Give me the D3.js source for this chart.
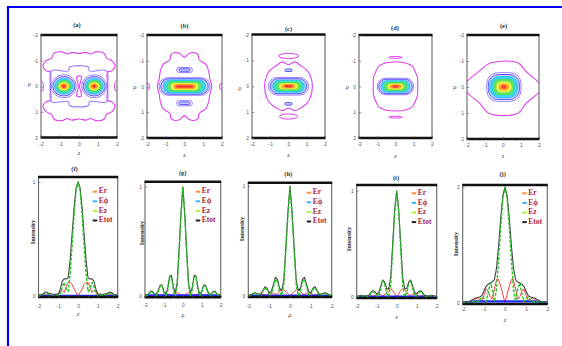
<!DOCTYPE html>
<html><head><meta charset="utf-8">
<script src="https://cdn.jsdelivr.net/npm/d3@7"></script>
<style>body{margin:0;background:#fff}svg{display:block}</style>
</head><body>
<script>
// ================= DATA =================
const axisTicks = [-2,-1,0,1,2];
const tickLabels = ["-2","-1","0","1","2"];
const minorTicks = [-1.5,-0.5,0.5,1.5];
const intensityTicks = [0,1];
const intensityLabels = ["0","1"];
const contourPanelLabels = ["(a)","(b)","(c)","(d)","(e)"];
const profilePanelLabels = ["(f)","(g)","(h)","(i)","(j)"];
const profileAxisNames = ["z","ρ","ρ","z","z"];
const seriesNames = ["Er","Eϕ","Ez","Etot"];

// sample positions of the intensity profiles
const zGrid = [-2,-1.9,-1.8,-1.7,-1.6,-1.5,-1.4,-1.3,-1.2,-1.1,-1,-0.9,-0.8,-0.7,-0.6,-0.5,-0.4,-0.3,-0.2,-0.1,0,0.1,0.2,0.3,0.4,0.5,0.6,0.7,0.8,0.9,1,1.1,1.2,1.3,1.4,1.5,1.6,1.7,1.8,1.9,2];

// (f)
const erF   = [0.004,0.004,0.005,0.01,0.01,0.008,0.008,0.008,0.008,0.01,0.015,0.04,0.05,0.03,0.08,0.12,0.12,0.1,0.06,0.03,0,0.03,0.06,0.1,0.12,0.12,0.08,0.03,0.05,0.04,0.015,0.01,0.008,0.008,0.008,0.008,0.01,0.01,0.005,0.004,0.004];
const ephiF = [0.004,0.004,0.004,0.004,0.004,0.004,0.004,0.004,0.004,0.004,0.004,0.004,0.004,0.004,0.004,0.004,0.004,0.004,0.004,0.004,0.004,0.004,0.004,0.004,0.004,0.004,0.004,0.004,0.004,0.004,0.004,0.004,0.004,0.004,0.004,0.004,0.004,0.004,0.004,0.004,0.004];
const ezF   = [0.005,0.005,0.01,0.02,0.025,0.015,0.01,0.005,0.005,0.005,0.005,0.02,0.08,0.12,0.06,0.04,0.2,0.45,0.72,0.93,1.0,0.93,0.72,0.45,0.2,0.04,0.06,0.12,0.08,0.02,0.005,0.005,0.005,0.005,0.01,0.015,0.025,0.02,0.01,0.005,0.005];
const etotF = [0.01,0.01,0.015,0.03,0.035,0.025,0.02,0.015,0.015,0.015,0.02,0.06,0.13,0.15,0.15,0.16,0.32,0.55,0.78,0.95,1.0,0.95,0.78,0.55,0.32,0.16,0.15,0.15,0.13,0.06,0.02,0.015,0.015,0.015,0.02,0.025,0.035,0.03,0.015,0.01,0.01];
// (g)
const erG   = [0.004,0.005,0.006,0.005,0.005,0.008,0.012,0.012,0.008,0.008,0.015,0.02,0.02,0.01,0.01,0.02,0.03,0.03,0.02,0.01,0,0.01,0.02,0.03,0.03,0.02,0.01,0.01,0.02,0.02,0.015,0.008,0.008,0.012,0.012,0.008,0.005,0.005,0.006,0.005,0.004];
const ephiG = [0.008,0.008,0.008,0.008,0.008,0.008,0.008,0.008,0.008,0.008,0.008,0.008,0.008,0.008,0.008,0.008,0.008,0.008,0.008,0.008,0.008,0.008,0.008,0.008,0.008,0.008,0.008,0.008,0.008,0.008,0.008,0.008,0.008,0.008,0.008,0.008,0.008,0.008,0.008,0.008,0.008];
const ezG   = [0.005,0.005,0.015,0.04,0.035,0.015,0.005,0.04,0.09,0.09,0.03,0.005,0.05,0.17,0.18,0.06,0.005,0.1,0.4,0.74,0.99,0.74,0.4,0.1,0.005,0.06,0.18,0.17,0.05,0.005,0.03,0.09,0.09,0.04,0.005,0.015,0.035,0.04,0.015,0.005,0.005];
const etotG = [0.01,0.01,0.02,0.045,0.04,0.02,0.015,0.05,0.1,0.1,0.04,0.02,0.07,0.18,0.19,0.08,0.03,0.12,0.42,0.75,1.0,0.75,0.42,0.12,0.03,0.08,0.19,0.18,0.07,0.02,0.04,0.1,0.1,0.05,0.015,0.02,0.04,0.045,0.02,0.01,0.01];
// (h)
const erH   = [0.004,0.005,0.006,0.005,0.005,0.01,0.015,0.015,0.01,0.01,0.02,0.03,0.025,0.015,0.02,0.04,0.06,0.055,0.04,0.02,0,0.02,0.04,0.055,0.06,0.04,0.02,0.015,0.025,0.03,0.02,0.01,0.01,0.015,0.015,0.01,0.005,0.005,0.006,0.005,0.004];
const ephiH = [0.007,0.007,0.007,0.007,0.007,0.007,0.007,0.007,0.007,0.007,0.007,0.007,0.007,0.007,0.007,0.007,0.007,0.007,0.007,0.007,0.007,0.007,0.007,0.007,0.007,0.007,0.007,0.007,0.007,0.007,0.007,0.007,0.007,0.007,0.007,0.007,0.007,0.007,0.007,0.007,0.007];
const ezH   = [0.004,0.004,0.015,0.025,0.02,0.008,0.008,0.04,0.075,0.06,0.01,0.01,0.08,0.15,0.13,0.04,0.005,0.1,0.41,0.74,0.99,0.74,0.41,0.1,0.005,0.04,0.13,0.15,0.08,0.01,0.01,0.06,0.075,0.04,0.008,0.008,0.02,0.025,0.015,0.004,0.004];
const etotH = [0.008,0.008,0.02,0.03,0.025,0.015,0.02,0.05,0.085,0.07,0.03,0.04,0.1,0.17,0.15,0.07,0.05,0.14,0.44,0.76,1.0,0.76,0.44,0.14,0.05,0.07,0.15,0.17,0.1,0.04,0.03,0.07,0.085,0.05,0.02,0.015,0.025,0.03,0.02,0.008,0.008];
// (i)
const erI   = [0.003,0.004,0.004,0.004,0.004,0.006,0.01,0.01,0.008,0.01,0.02,0.03,0.025,0.012,0.02,0.045,0.075,0.08,0.06,0.03,0,0.03,0.06,0.08,0.075,0.045,0.02,0.012,0.025,0.03,0.02,0.01,0.008,0.01,0.01,0.006,0.004,0.004,0.004,0.004,0.003];
const ephiI = [0.006,0.006,0.006,0.006,0.006,0.006,0.006,0.006,0.006,0.006,0.006,0.006,0.006,0.006,0.006,0.006,0.006,0.006,0.006,0.006,0.006,0.006,0.006,0.006,0.006,0.006,0.006,0.006,0.006,0.006,0.006,0.006,0.006,0.006,0.006,0.006,0.006,0.006,0.006,0.006,0.006];
const ezI   = [0.003,0.004,0.01,0.01,0.006,0.004,0.005,0.03,0.05,0.04,0.01,0.01,0.08,0.15,0.12,0.04,0.005,0.11,0.46,0.8,0.99,0.8,0.46,0.11,0.005,0.04,0.12,0.15,0.08,0.01,0.01,0.04,0.05,0.03,0.005,0.004,0.006,0.01,0.01,0.004,0.003];
const etotI = [0.005,0.008,0.015,0.015,0.01,0.01,0.015,0.04,0.06,0.05,0.03,0.04,0.1,0.16,0.14,0.08,0.08,0.18,0.5,0.82,1.0,0.82,0.5,0.18,0.08,0.08,0.14,0.16,0.1,0.04,0.03,0.05,0.06,0.04,0.015,0.01,0.01,0.015,0.015,0.008,0.005];
// (j)
const erJ   = [0.003,0.003,0.004,0.005,0.01,0.015,0.03,0.04,0.03,0.02,0.06,0.12,0.1,0.05,0.03,0.12,0.2,0.2,0.14,0.07,0,0.07,0.14,0.2,0.2,0.12,0.03,0.05,0.1,0.12,0.06,0.02,0.03,0.04,0.03,0.015,0.01,0.005,0.004,0.003,0.003];
const ephiJ = [0.003,0.003,0.004,0.006,0.008,0.01,0.012,0.012,0.012,0.012,0.012,0.012,0.012,0.012,0.012,0.012,0.012,0.012,0.012,0.012,0.012,0.012,0.012,0.012,0.012,0.012,0.012,0.012,0.012,0.012,0.012,0.012,0.012,0.012,0.012,0.01,0.008,0.006,0.004,0.003,0.003];
const ezJ   = [0.003,0.003,0.003,0.003,0.005,0.01,0.01,0.005,0.02,0.05,0.04,0.01,0.08,0.17,0.12,0.01,0.12,0.38,0.66,0.9,1.0,0.9,0.66,0.38,0.12,0.01,0.12,0.17,0.08,0.01,0.04,0.05,0.02,0.005,0.01,0.01,0.005,0.003,0.003,0.003,0.003];
const etotJ = [0.005,0.005,0.008,0.01,0.02,0.03,0.04,0.045,0.05,0.06,0.1,0.14,0.16,0.17,0.18,0.2,0.3,0.5,0.74,0.93,1.0,0.93,0.74,0.5,0.3,0.2,0.18,0.17,0.16,0.14,0.1,0.06,0.05,0.045,0.04,0.03,0.02,0.01,0.008,0.005,0.005];

// contour levels: 0 outermost ... 7 peak
// contour rings per panel: [level, centre z, centre rho, half width (z), half height (rho)]
const ringsA = [[0,-1.97,0,0.1,0.2],[0,1.97,0,0.1,0.2],
  [1,-0.8,0,0.66,0.45],[2,-0.8,0,0.58,0.38],[3,-0.8,0,0.47,0.3],[4,-0.8,0,0.36,0.22],[5,-0.8,0,0.26,0.15],[6,-0.8,0,0.17,0.09],[7,-0.8,0,0.08,0.045],
  [1,0.8,0,0.66,0.45],[2,0.8,0,0.58,0.38],[3,0.8,0,0.47,0.3],[4,0.8,0,0.36,0.22],[5,0.8,0,0.26,0.15],[6,0.8,0,0.17,0.09],[7,0.8,0,0.08,0.045]];
const ringsB = [[0,-1.97,0,0.1,0.13],[0,1.97,0,0.1,0.13],
  [1,0,-0.64,0.42,0.1],[2,0,-0.64,0.3,0.05],[1,0,0.65,0.42,0.1],[2,0,0.65,0.3,0.05],
  [1,0,0,1.36,0.34],[2,0,0,1.27,0.3],[3,0,0,1.12,0.25],[4,0,0,0.92,0.18],[5,0,0,0.72,0.12],[6,0,0,0.56,0.07],[7,0,0,0.45,0.025]];
const ringsC = [[0,0,-1.17,0.55,0.1],[0,0,1.17,0.5,0.1],
  [2,0,-0.62,0.2,0.05],[2,0,0.68,0.2,0.05],
  [1,0,0,1.1,0.34],[2,0,0,1.0,0.29],[3,0,0,0.86,0.23],[4,0,0,0.68,0.16],[5,0,0,0.5,0.1],[6,0,0,0.34,0.06],[7,0,0,0.2,0.03]];
const ringsD = [[0,0,-1.13,0.37,0.035],[0,0,1.19,0.37,0.035],
  [1,0,0,1.0,0.32],[2,0,0,0.92,0.28],[3,0,0,0.78,0.22],[4,0,0,0.6,0.16],[5,0,0,0.42,0.1],[6,0,0,0.28,0.06],[7,0,0,0.15,0.03]];
const ringsE = [[1,0.05,0,0.95,0.55],[2,0.05,0,0.86,0.48],[3,0.05,0,0.74,0.4],[4,0.05,0,0.56,0.29],[5,0.05,0,0.4,0.19],[6,0.05,0,0.25,0.11],[7,0.05,0,0.12,0.05]];

// free-form contour lines per panel: level and [z, rho] vertices
const outlinesA = [
 {lv:0, pts:[[-1.3,-1.3],[-0.9,-1.34],[-0.6,-1.26],[-0.4,-1.32],[0,-1.28],[0.4,-1.32],[0.6,-1.26],[0.9,-1.34],[1.3,-1.3],[1.45,-1.1],[1.75,-0.98],[1.9,-0.78],[1.72,-0.6],[1.5,-0.55],[1.52,0],[1.5,0.55],[1.72,0.6],[1.9,0.78],[1.75,0.98],[1.45,1.1],[1.3,1.3],[0.9,1.34],[0.6,1.26],[0.4,1.32],[0,1.28],[-0.4,1.32],[-0.6,1.26],[-0.9,1.34],[-1.3,1.3],[-1.45,1.1],[-1.75,0.98],[-1.9,0.78],[-1.72,0.6],[-1.5,0.55],[-1.52,0],[-1.5,-0.55],[-1.72,-0.6],[-1.9,-0.78],[-1.75,-0.98],[-1.45,-1.1]]},
 {lv:1, pts:[[-1.45,-0.6],[-0.55,-0.6],[-0.5,-0.75],[0.5,-0.75],[0.55,-0.6],[1.45,-0.6],[1.5,0],[1.45,0.6],[0.55,0.6],[0.5,0.75],[-0.5,0.75],[-0.55,0.6],[-1.45,0.6],[-1.5,0]]},
 {lv:0, pts:[[-0.12,-0.38],[0.12,-0.38],[0.03,0],[0.12,0.38],[-0.12,0.38],[-0.03,0]]}
];
const outlinesB = [
 {lv:0, pts:[[-0.5,-1.32],[-0.25,-1.28],[0,-1.13],[0.25,-1.28],[0.52,-1.32],[0.72,-1.24],[0.78,-1.05],[1.15,-0.85],[1.3,-0.55],[1.35,-0.3],[1.45,0],[1.35,0.3],[1.3,0.55],[1.15,0.85],[0.78,1.05],[0.72,1.24],[0.52,1.32],[0.25,1.28],[0,1.13],[-0.25,1.28],[-0.5,1.32],[-0.72,1.24],[-0.78,1.05],[-1.15,0.85],[-1.3,0.55],[-1.35,0.3],[-1.45,0],[-1.35,-0.3],[-1.3,-0.55],[-1.15,-0.85],[-0.78,-1.05],[-0.72,-1.24]]}
];
const outlinesC = [
 {lv:0, pts:[[-0.64,-0.81],[-0.36,-0.94],[0,-0.84],[0.36,-0.94],[0.64,-0.81],[1.0,-0.62],[1.18,-0.43],[1.31,0],[1.18,0.47],[1.0,0.66],[0.64,0.85],[0.36,0.94],[0,0.85],[-0.36,0.94],[-0.64,0.85],[-1.0,0.66],[-1.18,0.47],[-1.31,0],[-1.18,-0.43],[-1.0,-0.62]]}
];
const outlinesD = [
 {lv:0, pts:[[-0.9,-0.8],[-0.5,-0.92],[0,-0.95],[0.5,-0.92],[0.9,-0.8],[1.05,-0.62],[1.2,-0.35],[1.22,0],[1.2,0.35],[1.05,0.62],[0.9,0.8],[0.5,0.92],[0,0.95],[-0.5,0.92],[-0.9,0.8],[-1.05,0.62],[-1.2,0.35],[-1.22,0],[-1.2,-0.35],[-1.05,-0.62]]}
];
const outlinesE = [
 {lv:0, pts:[[-2.05,-0.15],[-1.3,-0.62],[-0.7,-0.92],[0.8,-0.94],[1.3,-0.58],[2.05,-0.1],[2.05,0.15],[1.3,0.62],[0.8,1.02],[-0.75,1.02],[-1.3,0.62],[-2.05,0.15]]}
];

// ================= STYLE / LAYOUT =================
const levelStroke = ["#e040ee","#9878ff","#5a5cff","#22c8f0","#4ee04e","#e6ee3a","#ff9a2a","#ff2e2e"];
const levelFill   = [null,null,"#c4c8ff","#3cd4f0","#66e466","#eef048","#ffa436","#ff3a3a"];
const seriesColor = ["#ff3b3b","#2626ff","#22c422","#444"];
const legendColor = ["#ff8c3c","#3cb4ff","#b4ee3c","#222"];

const W = 562, H = 346;
const svg = d3.select("body").append("svg").attr("width", W).attr("height", H)
  .attr("font-family", "'Liberation Serif', serif");
const defs = svg.append("defs");
defs.append("filter").attr("id","soft").attr("x","-5%").attr("y","-5%").attr("width","110%").attr("height","110%")
  .append("feGaussianBlur").attr("stdDeviation",0.3);

// blue frame
svg.append("line").attr("x1",7).attr("x2",W).attr("y1",7).attr("y2",7).attr("stroke","#0000ff").attr("stroke-width",2.2);
svg.append("line").attr("x1",8).attr("x2",8).attr("y1",6).attr("y2",H).attr("stroke","#0000ff").attr("stroke-width",2.2);

const topPanels = [
 {x0:41, x1:117, y0:35, y1:137.5, tx:77, ty:26, xlY:153.5, ylX:29.5, ylY:85, rings:ringsA, outlines:outlinesA, shape:"ellipse"},
 {x0:147,x1:222, y0:35, y1:138, tx:184.5, ty:26.5, xlY:156, ylX:135, ylY:88, rings:ringsB, outlines:outlinesB, shape:"stadium"},
 {x0:252,x1:325, y0:34.5, y1:138, tx:288.5, ty:29.5, xlY:156, ylX:240, ylY:89, rings:ringsC, outlines:outlinesC, shape:"stadium"},
 {x0:359,x1:432, y0:35, y1:138, tx:395, ty:29, xlY:156.5, ylX:347.5, ylY:88, rings:ringsD, outlines:outlinesD, shape:"stadium"},
 {x0:467,x1:539, y0:35, y1:139, tx:503.5, ty:26.5, xlY:156.5, ylX:455, ylY:88, rings:ringsE, outlines:outlinesE, shape:"rounded"}
];

function frame(g, x0, x1, y0, y1){
  g.append("line").attr("x1",x0).attr("x2",x0).attr("y1",y0).attr("y2",y1).attr("stroke","#666").attr("stroke-width",1.1);
  g.append("line").attr("x1",x1).attr("x2",x1).attr("y1",y0).attr("y2",y1).attr("stroke","#666").attr("stroke-width",1.1);
  g.append("line").attr("x1",x0-0.5).attr("x2",x1+0.5).attr("y1",y0).attr("y2",y0).attr("stroke","#111").attr("stroke-width",2.4);
  g.append("line").attr("x1",x0-0.5).attr("x2",x1+0.5).attr("y1",y1).attr("y2",y1).attr("stroke","#111").attr("stroke-width",2.4);
}
function styleAxis(sel){
  sel.select(".domain").remove();
  sel.selectAll(".tick line").attr("stroke","#555").attr("stroke-width",0.6);
  sel.selectAll(".tick text").attr("fill","#555").attr("font-size",5).attr("font-family","'Liberation Sans', sans-serif");
}

topPanels.forEach((p, i) => {
  const g = svg.append("g");
  const x = d3.scaleLinear().domain([-2,2]).range([p.x0,p.x1]);
  const y = d3.scaleLinear().domain([-2,2]).range([p.y0,p.y1]);
  const cid = "clipT"+i;
  defs.append("clipPath").attr("id",cid).append("rect")
    .attr("x",p.x0).attr("y",p.y0).attr("width",p.x1-p.x0).attr("height",p.y1-p.y0);
  const plot = g.append("g").attr("clip-path",`url(#${cid})`).append("g").attr("filter","url(#soft)");
  const line = d3.line().x(d=>x(d[0])).y(d=>y(d[1])).curve(d3.curveCatmullRomClosed.alpha(0.5));
  p.outlines.forEach(o => {
    plot.append("path").attr("d", line(o.pts)).attr("fill","none")
      .attr("stroke", levelStroke[o.lv]).attr("stroke-width",1.1);
  });
  p.rings.forEach(r => {
    const [lv, cz, cr, hw, hh] = r;
    const px0 = x(cz-hw), px1 = x(cz+hw), py0 = y(cr-hh), py1 = y(cr+hh);
    const w = px1-px0, h = py1-py0;
    let rx, ry;
    if (p.shape === "ellipse" || lv === 0) { rx = w/2; ry = h/2; }
    else if (p.shape === "stadium") { rx = Math.min(h/2, w/2); ry = h/2; }
    else { rx = w*0.32; ry = h*0.38; }
    plot.append("rect").attr("x",px0).attr("y",py0).attr("width",w).attr("height",h)
      .attr("rx",rx).attr("ry",ry)
      .attr("fill", levelFill[lv] || "none")
      .attr("stroke", levelStroke[lv]).attr("stroke-width", lv===7 ? 0.8 : 1);
  });
  frame(g, p.x0, p.x1, p.y0, p.y1);
  const ax = g.append("g").attr("transform",`translate(0,${p.y1})`)
    .call(d3.axisBottom(x).tickValues(axisTicks).tickFormat((d,k)=>tickLabels[k]).tickSize(-2.2).tickPadding(4.5));
  styleAxis(ax);
  const axm = g.append("g").attr("transform",`translate(0,${p.y1})`)
    .call(d3.axisBottom(x).tickValues(minorTicks).tickFormat("").tickSize(-1.3));
  styleAxis(axm);
  const ay = g.append("g").attr("transform",`translate(${p.x0},0)`)
    .call(d3.axisLeft(y).tickValues(axisTicks).tickFormat((d,k)=>tickLabels[k]).tickSize(-2.2).tickPadding(3));
  styleAxis(ay);
  g.append("text").attr("x",p.tx).attr("y",p.ty).attr("text-anchor","middle").attr("dominant-baseline","middle")
    .attr("font-size",6.5).attr("font-weight","bold").attr("fill","#333").text(contourPanelLabels[i]);
  g.append("text").attr("x",(p.x0+p.x1)/2).attr("y",p.xlY).attr("text-anchor","middle").attr("dominant-baseline","middle")
    .attr("font-size",6).attr("font-style","italic").attr("fill","#444").text("z");
  g.append("text").attr("x",p.ylX).attr("y",p.ylY).attr("text-anchor","middle").attr("dominant-baseline","middle")
    .attr("font-size",6).attr("font-style","italic").attr("fill","#444").text("ρ");
});

// ---------- intensity profiles ----------
const profilePanels = [
 {x0:38.5, x1:117.7, yTop:177, yBot:297, yOne:182, yZero:296, tx:74.5, ty:170, xlY:315, tickPad:7, ilX:33.5, ilY:232, legY:191.7, series:[erF,ephiF,ezF,etotF]},
 {x0:145, x1:220.7, yTop:181.7, yBot:297.3, yOne:186.7, yZero:296, tx:182.7, ty:173.3, xlY:316, tickPad:6, ilX:143, ilY:233, legY:191.7, series:[erG,ephiG,ezG,etotG]},
 {x0:248.3, x1:331.7, yTop:182.7, yBot:297, yOne:186, yZero:296, tx:288.3, ty:175, xlY:316, tickPad:7, ilX:242.3, ilY:229, legY:192.7, series:[erH,ephiH,ezH,etotH]},
 {x0:356.7, x1:436.7, yTop:185, yBot:298, yOne:190.7, yZero:297, tx:396, ty:178.3, xlY:318, tickPad:6.5, ilX:350, ilY:239, legY:193.3, series:[erI,ephiI,ezI,etotI]},
 {x0:462.7, x1:547.3, yTop:185, yBot:304, yOne:187.3, yZero:302.7, tx:502.7, ty:175, xlY:320.5, tickPad:3.5, ilX:456.7, ilY:244, legY:193.3, series:[erJ,ephiJ,ezJ,etotJ]}
];

profilePanels.forEach((p, i) => {
  const g = svg.append("g");
  const x = d3.scaleLinear().domain([-2,2]).range([p.x0,p.x1]);
  const y = d3.scaleLinear().domain([0,1]).range([p.yZero,p.yOne]);
  const cid = "clipB"+i;
  defs.append("clipPath").attr("id",cid).append("rect")
    .attr("x",p.x0).attr("y",p.yTop).attr("width",p.x1-p.x0).attr("height",p.yBot-p.yTop);
  const plot = g.append("g").attr("clip-path",`url(#${cid})`).append("g").attr("filter","url(#soft)");
  const line = d3.line().x((d,k)=>x(zGrid[k])).y(d=>y(d));
  const order = [0,1,3,2];
  const widths = [1,i===4?2.2:1.6,1.4,1.1];
  order.forEach(s => {
    plot.append("path").attr("d", line(p.series[s])).attr("fill","none")
      .attr("stroke", seriesColor[s]).attr("stroke-width", widths[s])
      .attr("stroke-dasharray", s===2 ? "3,1.5" : null)
      .attr("stroke-linejoin","round");
  });
  frame(g, p.x0, p.x1, p.yTop, p.yBot);
  const ax = g.append("g").attr("transform",`translate(0,${p.yBot})`)
    .call(d3.axisBottom(x).tickValues(axisTicks).tickFormat((d,k)=>tickLabels[k]).tickSize(-2).tickPadding(p.tickPad));
  styleAxis(ax);
  const axm = g.append("g").attr("transform",`translate(0,${p.yBot})`)
    .call(d3.axisBottom(x).tickValues(minorTicks).tickFormat("").tickSize(-1.2));
  styleAxis(axm);
  const ay = g.append("g").attr("transform",`translate(${p.x0},0)`)
    .call(d3.axisLeft(y).tickValues(intensityTicks).tickFormat((d,k)=>intensityLabels[k]).tickSize(-2).tickPadding(3));
  styleAxis(ay);
  g.append("text").attr("x",p.tx).attr("y",p.ty).attr("text-anchor","middle").attr("dominant-baseline","middle")
    .attr("font-size",6.5).attr("font-weight","bold").attr("fill","#333").text(profilePanelLabels[i]);
  g.append("text").attr("x",(p.x0+p.x1)/2).attr("y",p.xlY).attr("text-anchor","middle").attr("dominant-baseline","middle")
    .attr("font-size",6).attr("font-style","italic").attr("fill","#444").text(profileAxisNames[i]);
  g.append("text").attr("transform",`translate(${p.ilX},${p.ilY}) rotate(-90)`).attr("text-anchor","middle")
    .attr("dominant-baseline","middle").attr("font-size",6.5).attr("font-weight","bold").attr("fill","#333").text("Intensity");
  // legend
  seriesNames.forEach((n, k) => {
    const ly = p.legY + k*9.6;
    g.append("line").attr("x1",p.x1-25).attr("x2",p.x1-20.5).attr("y1",ly).attr("y2",ly)
      .attr("stroke",legendColor[k]).attr("stroke-width",2);
    g.append("text").attr("x",p.x1-19).attr("y",ly).attr("dominant-baseline","middle")
      .attr("font-size",7.5).attr("font-weight","bold").attr("fill","#a8283c").text(n);
  });
});
</script>
</body></html>
